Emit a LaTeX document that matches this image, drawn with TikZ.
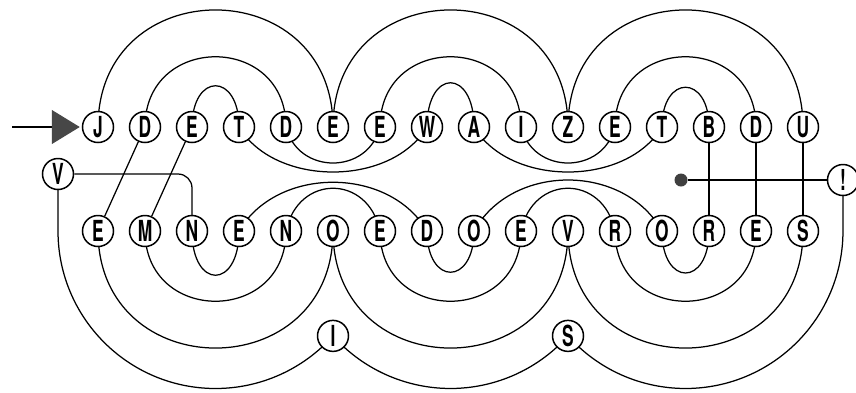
\documentclass[tikz,border=0pt]{standalone}
\usepackage{fontspec}
\usepackage{graphicx}
\newfontfamily\lfont{TeX Gyre Heros}
\usetikzlibrary{arrows.meta}
\pgfdeclarelayer{bg}
\pgfsetlayers{bg,main}
\newcommand{\sqz}[1]{\scalebox{0.6}[1]{#1}}
\begin{document}
\begin{tikzpicture}[x=1pt,y=1pt,
  ltr/.style={circle,draw,line width=1.5pt,fill=white,minimum size=31pt,inner sep=0pt,
    font=\lfont\bfseries\fontsize{29}{29}\selectfont},
  wire/.style={line width=1.25pt},
  semi/.style={looseness=1.703},
  blob/.style={circle,fill=black!75,minimum size=13pt,inner sep=0pt}]
\useasboundingbox (0,0) rectangle (856,-392);
% rows
\foreach \l [count=\i from 0] in {J,D,E,T,D,E,E,W,A,I,Z,E,T,B,D,U}
  \node[ltr] (t\i) at ({98+47*\i},-127) {\sqz{\l}};
\foreach \l [count=\i from 0] in {E,M,N,E,N,O,E,D,O,E,V,R,O,R,E,S}
  \node[ltr] (b\i) at ({98+47*\i},-231) {\sqz{\l}};
\node[ltr] (v) at (58,-174) {\sqz{V}};
\node[ltr] (excl) at (843,-180) {\sqz{!}};
\node[ltr] (ii) at (333,-335.88) {\sqz{I}};
\node[ltr] (ss) at (568,-335.88) {\sqz{S}};
\node[blob] (dot) at (681,-180) {};
\coordinate (src) at (12,-127);
\begin{pgfonlayer}{bg}
\fill[white] (0,0) rectangle (856,-392);
% top row, arcs above
\draw[wire] (t0.center) to[out=90,in=90,semi] (t5.center);
\draw[wire] (t1.center) to[out=90,in=90,semi] (t4.center);
\draw[wire] (t2.center) .. controls +(0,55) and +(0,55) .. (t3.center);
\draw[wire] (t5.center) to[out=90,in=90,semi] (t10.center);
\draw[wire] (t6.center) to[out=90,in=90,semi] (t9.center);
\draw[wire] (t7.center) .. controls +(0,59) and +(0,59) .. (t8.center);
\draw[wire] (t10.center) to[out=90,in=90,semi] (t15.center);
\draw[wire] (t11.center) to[out=90,in=90,semi] (t14.center);
\draw[wire] (t12.center) .. controls +(0,53) and +(0,53) .. (t13.center);
% top row, arcs below
\draw[wire] (t3.center) .. controls +(36,-60) and +(-36,-60) .. (t7.center);
\draw[wire] (t4.center) .. controls +(12,-48) and +(-12,-48) .. (t6.center);
\draw[wire] (t8.center) .. controls +(36,-60) and +(-36,-60) .. (t12.center);
\draw[wire] (t9.center) .. controls +(12,-48) and +(-12,-48) .. (t11.center);
% straight links
\draw[wire] (t1) -- (b0);
\draw[wire] (t2) -- (b1);
\draw[wire] (t13) -- (b13);
\draw[wire] (t14) -- (b14);
\draw[wire] (t15) -- (b15);
% bottom row, arcs above
\draw[wire] (b3.center) .. controls +(38,65) and +(-38,65) .. (b7.center);
\draw[wire] (b4.center) .. controls +(12,57) and +(-12,57) .. (b6.center);
\draw[wire] (b8.center) .. controls +(38,68) and +(-38,68) .. (b12.center);
\draw[wire] (b9.center) .. controls +(12,57) and +(-12,57) .. (b11.center);
% bottom row, arcs below
\draw[wire] (b2.center) .. controls +(0,-59) and +(0,-59) .. (b3.center);
\draw[wire] (b1.center) to[out=-90,in=-90,semi] (b4.center);
\draw[wire] (b0.center) to[out=-90,in=-90,semi] (b5.center);
\draw[wire] (b7.center) .. controls +(0,-55) and +(0,-55) .. (b8.center);
\draw[wire] (b6.center) to[out=-90,in=-90,semi] (b9.center);
\draw[wire] (b5.center) to[out=-90,in=-90,semi] (b10.center);
\draw[wire] (b12.center) .. controls +(0,-56) and +(0,-56) .. (b13.center);
\draw[wire] (b11.center) to[out=-90,in=-90,semi] (b14.center);
\draw[wire] (b10.center) to[out=-90,in=-90,semi] (b15.center);
% V, I, S, !
\draw[wire,rounded corners=14pt] (v) -| (b2);
\draw[wire] (v.center) -- (v.center |- b0.center)
  arc[start angle=180,end angle=318.24,radius=157.5];
\draw[wire] (ii.center) arc[start angle=221.76,end angle=318.24,radius=157.5];
\draw[wire] (ss.center) arc[start angle=221.76,end angle=360,radius=157.5] -- (excl.center);
\draw[wire] (dot) -- (excl);
% entry arrow
\draw[line width=1.1pt,-{Triangle[length=28pt,width=34pt,color=black!72]},shorten >=2pt] (src) -- (t0);
\end{pgfonlayer}
\end{tikzpicture}
\end{document}
